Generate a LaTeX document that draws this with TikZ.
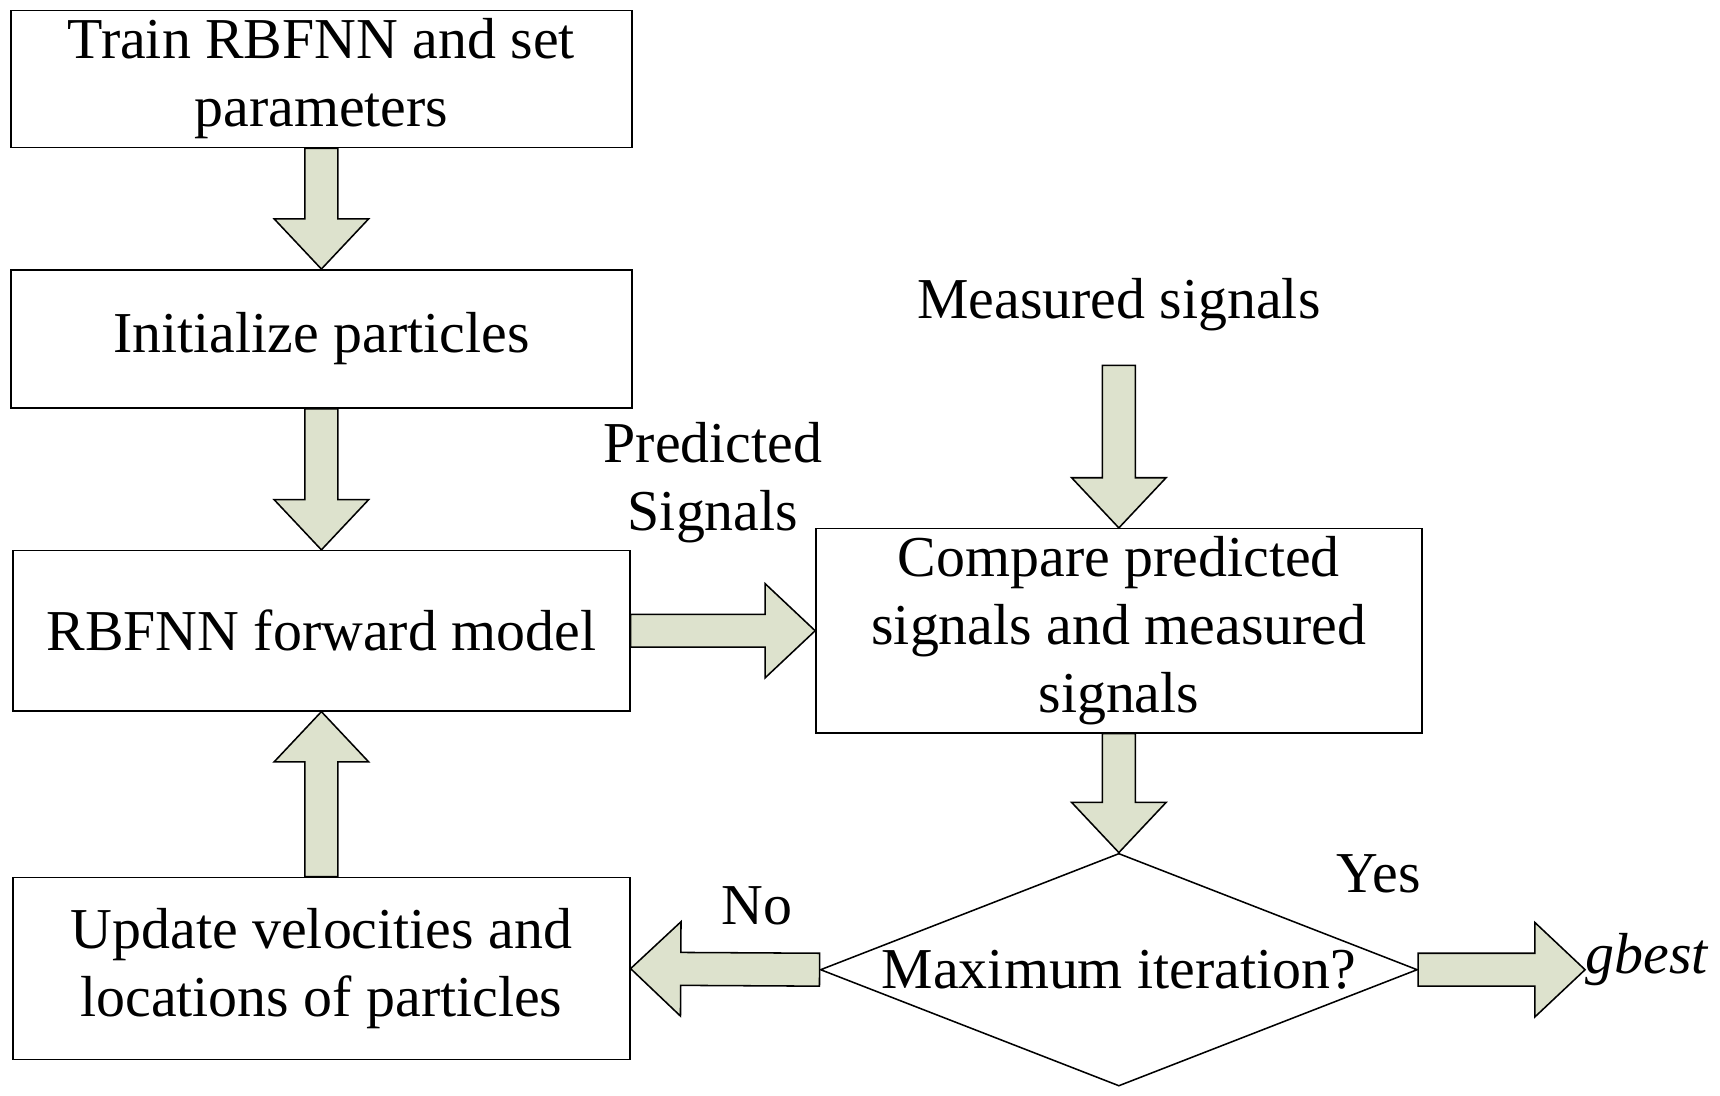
\documentclass[tikz,border=0pt]{standalone}
\usepackage{fontspec}
\setmainfont{Liberation Serif}
\usetikzlibrary{shapes.geometric, calc}

\definecolor{arrowfill}{RGB}{221,226,205}

\tikzset{
    box/.style={draw, thin, align=center, inner sep=0pt},
    blockarr/.style={draw, thin, fill=arrowfill, line join=miter},
    lbl/.style={align=center}
}

% wide block arrow from #1 to #2
\newcommand{\bigarrow}[2]{
    \path #1 coordinate (ba1) #2 coordinate (ba2);
    \draw[blockarr] let \p1=($(ba2)-(ba1)$), \n1={atan2(\y1,\x1)}, \n2={veclen(\x1,\y1)} in
        [shift={(ba1)}, rotate=\n1] (0pt,-0.15cm) -- ({\n2-13pt},-0.15cm) -- ({\n2-13pt},-0.43cm)
        -- (\n2,0pt) -- ({\n2-13pt},0.43cm) -- ({\n2-13pt},0.15cm) -- (0pt,0.15cm) -- cycle;
}

\begin{document}
\begin{tikzpicture}[x=0.01cm, y=-0.01cm, font=\fontsize{15}{17.6}\selectfont]
    \useasboundingbox (0,0) rectangle (1568,999);

    % Boxes
    \node[box, minimum width=5.66cm, minimum height=1.25cm] (train) at (293,72) {Train RBFNN and set\\parameters};
    \node[box, minimum width=5.66cm, minimum height=1.26cm] (init) at (293,309) {Initialize particles};
    \node[box, minimum width=5.62cm, minimum height=1.46cm] (model) at (293,575) {RBFNN forward model};
    \node[box, minimum width=5.62cm, minimum height=1.66cm] (update) at (293,883) {Update velocities and\\locations of particles};
    \node[box, minimum width=5.52cm, minimum height=1.86cm] (compare) at (1020,575) {Compare predicted\\signals and measured\\signals};
    \node[draw, thin, diamond, minimum width=5.44cm, minimum height=2.12cm, aspect=2.57, inner sep=0pt] (maxit) at (1020,884) {Maximum iteration?};

    % Labels
    \node[lbl] (meas) at (1020,278) {Measured signals};
    \node[lbl] (pred) at (650,440) {Predicted\\Signals};
    \node[lbl] (no) at (690,826) {No};
    \node[lbl] (yes) at (1257,797) {Yes};
    \node[anchor=west, inner sep=0pt] (gbest) at (1445,875) {\itshape gbest};
    \coordinate (measend) at (1020,333);

    % Arrows
    \bigarrow{(train.south)}{(init.north)}
    \bigarrow{(init.south)}{(model.north)}
    \bigarrow{(model.east)}{(compare.west)}
    \bigarrow{(measend)}{(compare.north)}
    \bigarrow{(compare.south)}{(maxit.north)}
    \bigarrow{(maxit.west)}{(update.east)}
    \bigarrow{(update.north)}{(model.south)}
    \bigarrow{(maxit.east)}{(gbest.west |- maxit.east)}
\end{tikzpicture}
\end{document}
